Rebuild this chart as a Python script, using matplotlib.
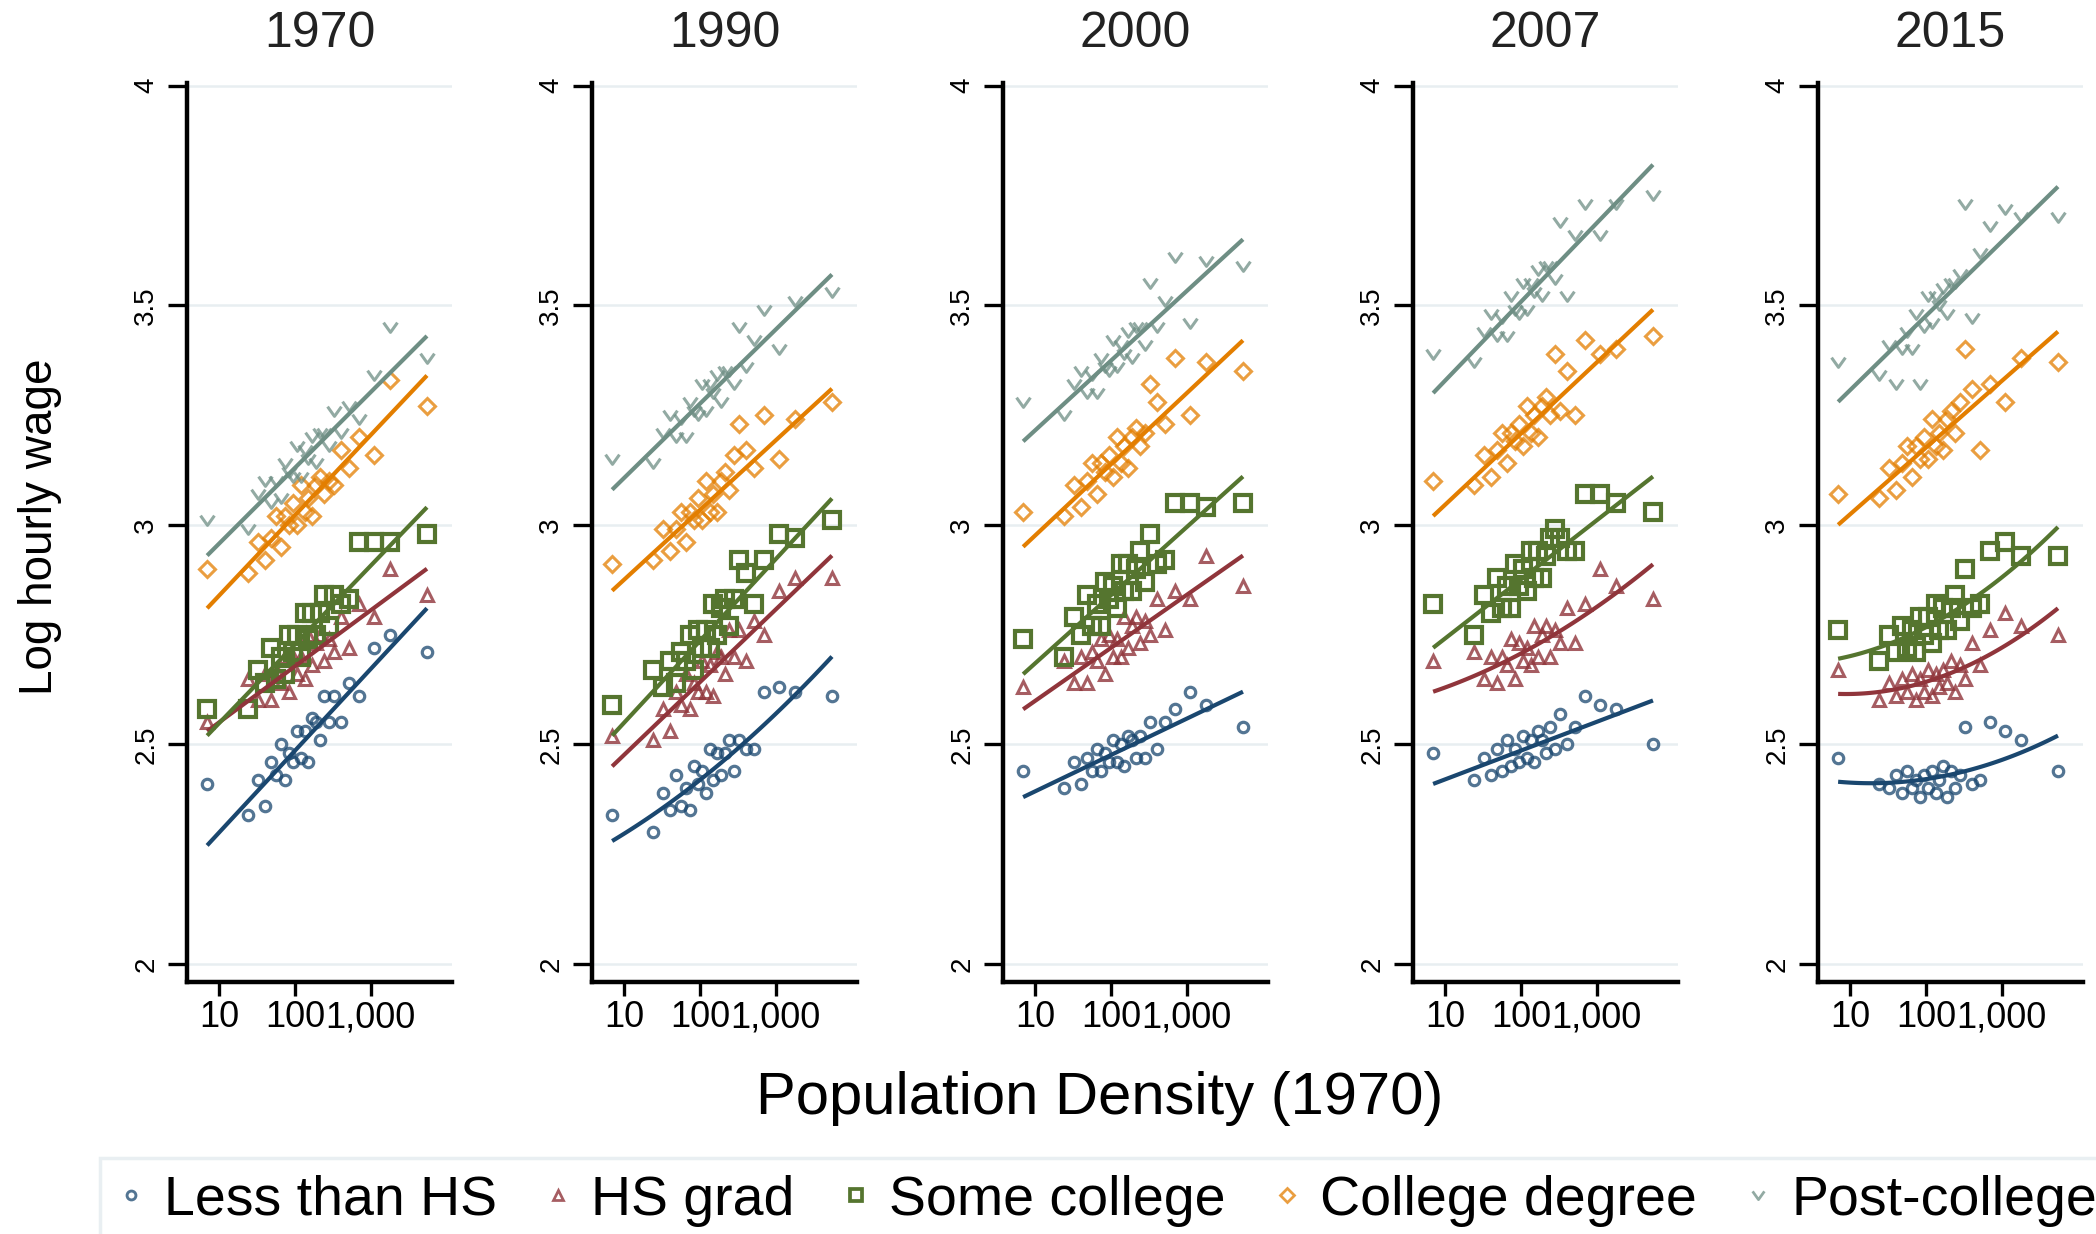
import numpy as np
import matplotlib
matplotlib.use("Agg")
import matplotlib.pyplot as plt
from matplotlib.path import Path
from matplotlib.lines import Line2D
from matplotlib.ticker import NullLocator

plt.rcParams['font.family'] = ['Liberation Sans', 'DejaVu Sans']

years = ["1970", "1990", "2000", "2007", "2015"]
groups = ["Less than HS", "HS grad", "Some college", "College degree", "Post-college"]
colors = ["#1a476f", "#90353b", "#55752f", "#e37e00", "#6e8e84"]

# 1970 population density of each area
density = [7, 24, 33, 40, 48, 56, 65, 75, 85, 95, 108, 120, 135, 150, 170,
           190, 215, 245, 280, 330, 400, 520, 700, 1100, 1800, 5500]

# mean log hourly wage by area, one list per education group
wage_1970 = [
    [2.41, 2.34, 2.42, 2.36, 2.46, 2.43, 2.50, 2.42, 2.48, 2.46, 2.53, 2.47, 2.53, 2.46, 2.56, 2.55, 2.51, 2.61, 2.55, 2.61, 2.55, 2.64, 2.61, 2.72, 2.75, 2.71],
    [2.55, 2.65, 2.60, 2.66, 2.60, 2.67, 2.64, 2.70, 2.62, 2.70, 2.66, 2.70, 2.65, 2.75, 2.68, 2.73, 2.75, 2.69, 2.74, 2.71, 2.79, 2.72, 2.82, 2.79, 2.90, 2.84],
    [2.58, 2.58, 2.67, 2.64, 2.72, 2.65, 2.70, 2.66, 2.75, 2.71, 2.75, 2.70, 2.80, 2.74, 2.80, 2.75, 2.80, 2.84, 2.77, 2.84, 2.82, 2.83, 2.96, 2.96, 2.96, 2.98],
    [2.90, 2.89, 2.96, 2.92, 2.97, 3.02, 2.95, 3.02, 3.00, 3.05, 3.00, 3.09, 3.03, 3.06, 3.02, 3.09, 3.11, 3.07, 3.10, 3.09, 3.17, 3.13, 3.20, 3.16, 3.33, 3.27],
    [3.01, 2.99, 3.07, 3.10, 3.05, 3.10, 3.06, 3.14, 3.12, 3.11, 3.18, 3.11, 3.17, 3.15, 3.20, 3.14, 3.21, 3.21, 3.18, 3.26, 3.21, 3.27, 3.24, 3.34, 3.45, 3.38],
]
wage_1990 = [
    [2.34, 2.30, 2.39, 2.35, 2.43, 2.36, 2.40, 2.35, 2.45, 2.41, 2.44, 2.39, 2.49, 2.42, 2.48, 2.43, 2.48, 2.51, 2.44, 2.51, 2.49, 2.49, 2.62, 2.63, 2.62, 2.61],
    [2.52, 2.51, 2.58, 2.53, 2.62, 2.59, 2.66, 2.58, 2.64, 2.62, 2.69, 2.62, 2.68, 2.61, 2.71, 2.70, 2.66, 2.76, 2.70, 2.76, 2.69, 2.78, 2.75, 2.85, 2.88, 2.88],
    [2.59, 2.67, 2.63, 2.69, 2.64, 2.71, 2.69, 2.75, 2.67, 2.76, 2.72, 2.76, 2.72, 2.82, 2.75, 2.81, 2.83, 2.77, 2.83, 2.92, 2.89, 2.82, 2.92, 2.98, 2.97, 3.01],
    [2.91, 2.92, 2.99, 2.94, 2.99, 3.03, 2.96, 3.03, 3.01, 3.06, 3.01, 3.10, 3.03, 3.07, 3.03, 3.10, 3.12, 3.08, 3.16, 3.23, 3.17, 3.13, 3.25, 3.15, 3.24, 3.28],
    [3.15, 3.14, 3.21, 3.25, 3.20, 3.24, 3.20, 3.28, 3.26, 3.25, 3.32, 3.26, 3.32, 3.30, 3.34, 3.28, 3.35, 3.35, 3.32, 3.45, 3.36, 3.42, 3.49, 3.40, 3.51, 3.53],
]
wage_2000 = [
    [2.44, 2.40, 2.46, 2.41, 2.47, 2.44, 2.49, 2.44, 2.48, 2.46, 2.51, 2.46, 2.50, 2.45, 2.52, 2.51, 2.47, 2.52, 2.47, 2.55, 2.49, 2.55, 2.58, 2.62, 2.59, 2.54],
    [2.63, 2.69, 2.64, 2.70, 2.64, 2.71, 2.69, 2.74, 2.66, 2.75, 2.70, 2.74, 2.70, 2.79, 2.72, 2.77, 2.79, 2.73, 2.78, 2.75, 2.83, 2.76, 2.85, 2.83, 2.93, 2.86],
    [2.74, 2.70, 2.79, 2.75, 2.84, 2.77, 2.82, 2.77, 2.87, 2.83, 2.86, 2.81, 2.91, 2.85, 2.91, 2.85, 2.90, 2.94, 2.87, 2.98, 2.91, 2.92, 3.05, 3.05, 3.04, 3.05],
    [3.03, 3.02, 3.09, 3.04, 3.10, 3.14, 3.07, 3.14, 3.12, 3.16, 3.11, 3.20, 3.14, 3.18, 3.13, 3.20, 3.22, 3.18, 3.21, 3.32, 3.28, 3.23, 3.38, 3.25, 3.37, 3.35],
    [3.28, 3.25, 3.32, 3.35, 3.30, 3.34, 3.30, 3.38, 3.36, 3.35, 3.42, 3.36, 3.41, 3.39, 3.44, 3.38, 3.45, 3.45, 3.41, 3.55, 3.45, 3.51, 3.61, 3.46, 3.60, 3.59],
]
wage_2007 = [
    [2.48, 2.42, 2.47, 2.43, 2.49, 2.44, 2.51, 2.45, 2.49, 2.46, 2.52, 2.47, 2.51, 2.46, 2.53, 2.51, 2.48, 2.54, 2.49, 2.57, 2.50, 2.54, 2.61, 2.59, 2.58, 2.50],
    [2.69, 2.71, 2.65, 2.70, 2.64, 2.70, 2.68, 2.74, 2.65, 2.73, 2.69, 2.72, 2.68, 2.77, 2.70, 2.75, 2.77, 2.70, 2.76, 2.73, 2.81, 2.73, 2.82, 2.90, 2.86, 2.83],
    [2.82, 2.75, 2.84, 2.80, 2.88, 2.81, 2.86, 2.81, 2.91, 2.86, 2.90, 2.85, 2.94, 2.88, 2.94, 2.88, 2.93, 2.97, 2.99, 2.97, 2.94, 2.94, 3.07, 3.07, 3.05, 3.03],
    [3.10, 3.09, 3.16, 3.11, 3.17, 3.21, 3.14, 3.21, 3.19, 3.23, 3.18, 3.27, 3.21, 3.25, 3.20, 3.27, 3.29, 3.25, 3.39, 3.26, 3.35, 3.25, 3.42, 3.39, 3.40, 3.43],
    [3.39, 3.37, 3.44, 3.48, 3.43, 3.47, 3.43, 3.52, 3.49, 3.48, 3.55, 3.49, 3.55, 3.53, 3.58, 3.52, 3.59, 3.59, 3.56, 3.69, 3.52, 3.66, 3.73, 3.66, 3.73, 3.75],
]
wage_2015 = [
    [2.47, 2.41, 2.40, 2.43, 2.39, 2.44, 2.40, 2.42, 2.38, 2.43, 2.40, 2.44, 2.39, 2.42, 2.45, 2.38, 2.44, 2.40, 2.43, 2.54, 2.41, 2.42, 2.55, 2.53, 2.51, 2.44],
    [2.67, 2.60, 2.64, 2.61, 2.65, 2.62, 2.66, 2.60, 2.65, 2.62, 2.67, 2.61, 2.66, 2.63, 2.67, 2.64, 2.69, 2.62, 2.68, 2.65, 2.73, 2.68, 2.76, 2.80, 2.77, 2.75],
    [2.76, 2.69, 2.75, 2.71, 2.77, 2.72, 2.76, 2.71, 2.79, 2.75, 2.79, 2.73, 2.82, 2.76, 2.81, 2.76, 2.81, 2.84, 2.78, 2.90, 2.81, 2.82, 2.94, 2.96, 2.93, 2.93],
    [3.07, 3.06, 3.13, 3.08, 3.14, 3.18, 3.11, 3.18, 3.15, 3.20, 3.15, 3.24, 3.18, 3.21, 3.17, 3.24, 3.26, 3.21, 3.28, 3.40, 3.31, 3.17, 3.32, 3.28, 3.38, 3.37],
    [3.37, 3.34, 3.41, 3.32, 3.40, 3.44, 3.40, 3.48, 3.32, 3.45, 3.52, 3.46, 3.52, 3.50, 3.54, 3.48, 3.55, 3.55, 3.57, 3.73, 3.47, 3.62, 3.68, 3.72, 3.70, 3.70],
]

# quadratic fit per group: fitted value at lowest, middle (log scale) and highest density
fit_1970 = [(2.27, 2.54, 2.81), (2.53, 2.715, 2.90), (2.52, 2.78, 3.04), (2.81, 3.075, 3.34), (2.93, 3.18, 3.43)]
fit_1990 = [(2.28, 2.46, 2.70), (2.45, 2.69, 2.93), (2.52, 2.79, 3.06), (2.85, 3.08, 3.31), (3.08, 3.325, 3.57)]
fit_2000 = [(2.38, 2.50, 2.62), (2.58, 2.755, 2.93), (2.66, 2.885, 3.11), (2.95, 3.185, 3.42), (3.19, 3.42, 3.65)]
fit_2007 = [(2.41, 2.505, 2.60), (2.62, 2.735, 2.91), (2.72, 2.915, 3.11), (3.02, 3.255, 3.49), (3.30, 3.56, 3.82)]
fit_2015 = [(2.415, 2.43, 2.52), (2.615, 2.66, 2.81), (2.695, 2.795, 2.995), (3.00, 3.22, 3.44), (3.28, 3.525, 3.77)]

wages = [wage_1970, wage_1990, wage_2000, wage_2007, wage_2015]
fits = [fit_1970, fit_1990, fit_2000, fit_2007, fit_2015]

# open "v" marker for the last group
v_marker = Path([(-0.5, 0.35), (0.0, -0.35), (0.5, 0.35)],
                [Path.MOVETO, Path.LINETO, Path.LINETO])
markers = ["o", "^", "s", "D", v_marker]
msizes = [7.5, 9, 11, 8, 10]
mews = [2.3, 2.2, 3.0, 2.2, 2.2]
malpha = [0.75, 0.8, 1.0, 0.75, 0.75]

W, H = 2096, 1234
fig = plt.figure(figsize=(W / 100, H / 100), dpi=100)
fig.patch.set_facecolor("white")

lefts = [187, 592, 1003, 1413, 1818]
ax_w = 265
ax_bottom, ax_top = 982, 83

logd = np.log10(density)
x_lo, x_hi = logd.min(), logd.max()
x_mid = (x_lo + x_hi) / 2
xs = np.linspace(x_lo, x_hi, 120)

for k, year in enumerate(years):
    ax = fig.add_axes([lefts[k] / W, 1 - ax_bottom / H, ax_w / W, (ax_bottom - ax_top) / H])

    for g in range(5):
        ax.plot(density, wages[k][g], linestyle="none", marker=markers[g],
                ms=msizes[g], mfc="none", mec=colors[g], mew=mews[g],
                alpha=malpha[g], zorder=3)
    for g in range(5):
        coef = np.polyfit([x_lo, x_mid, x_hi], fits[k][g], 2)
        ax.plot(10 ** xs, np.polyval(coef, xs), color=colors[g], lw=3.0,
                solid_capstyle="butt", zorder=4)

    ax.set_xscale("log")
    ax.set_xlim(10 ** 0.58, 10 ** 4.07)
    ax.set_ylim(1.959, 4.006)
    ax.set_xticks([10, 100, 1000])
    ax.set_xticklabels(["10", "100", "1,000"])
    ax.xaxis.set_minor_locator(NullLocator())
    ax.set_yticks([2, 2.5, 3, 3.5, 4])
    ax.set_yticklabels(["2", "2.5", "3", "3.5", "4"])

    ax.grid(axis="y", color="#e8eef1", lw=1.8)
    ax.grid(axis="x", visible=False)
    ax.set_axisbelow(True)
    for side in ["top", "right"]:
        ax.spines[side].set_visible(False)
    for side in ["left", "bottom"]:
        ax.spines[side].set_linewidth(3.2)
        ax.spines[side].set_color("black")

    ax.tick_params(axis="y", direction="out", length=14, width=2.4,
                   labelsize=20, pad=6, labelrotation=90)
    ax.tick_params(axis="x", direction="out", length=10, width=2.4,
                   labelsize=26, pad=3)
    for lbl in ax.get_yticklabels():
        lbl.set_va("center")

    ax.set_title(year, fontsize=36, pad=26, color="#222222")

fig.text(1100 / W, 1 - 1099 / H, "Population Density (1970)", fontsize=43,
         ha="center", va="center")
fig.text(40 / W, 1 - 527 / H, "Log hourly wage", fontsize=33, rotation=90,
         ha="center", va="center")

handles = [Line2D([], [], linestyle="none", marker=markers[g], ms=msizes[g] * 0.85,
                  mfc="none", mec=colors[g], mew=mews[g] * 0.9, alpha=malpha[g])
           for g in range(5)]
leg = fig.legend(handles, groups, loc="upper left",
                 bbox_to_anchor=(100 / W, 1 - 1158 / H), ncol=5, fontsize=40,
                 frameon=True, fancybox=False, edgecolor="#e4ecef",
                 borderpad=0.3, handlelength=0.5, handletextpad=0.35,
                 columnspacing=0.85, borderaxespad=0)
leg.get_frame().set_linewidth(2.5)

fig.savefig("out.png", dpi=100)
